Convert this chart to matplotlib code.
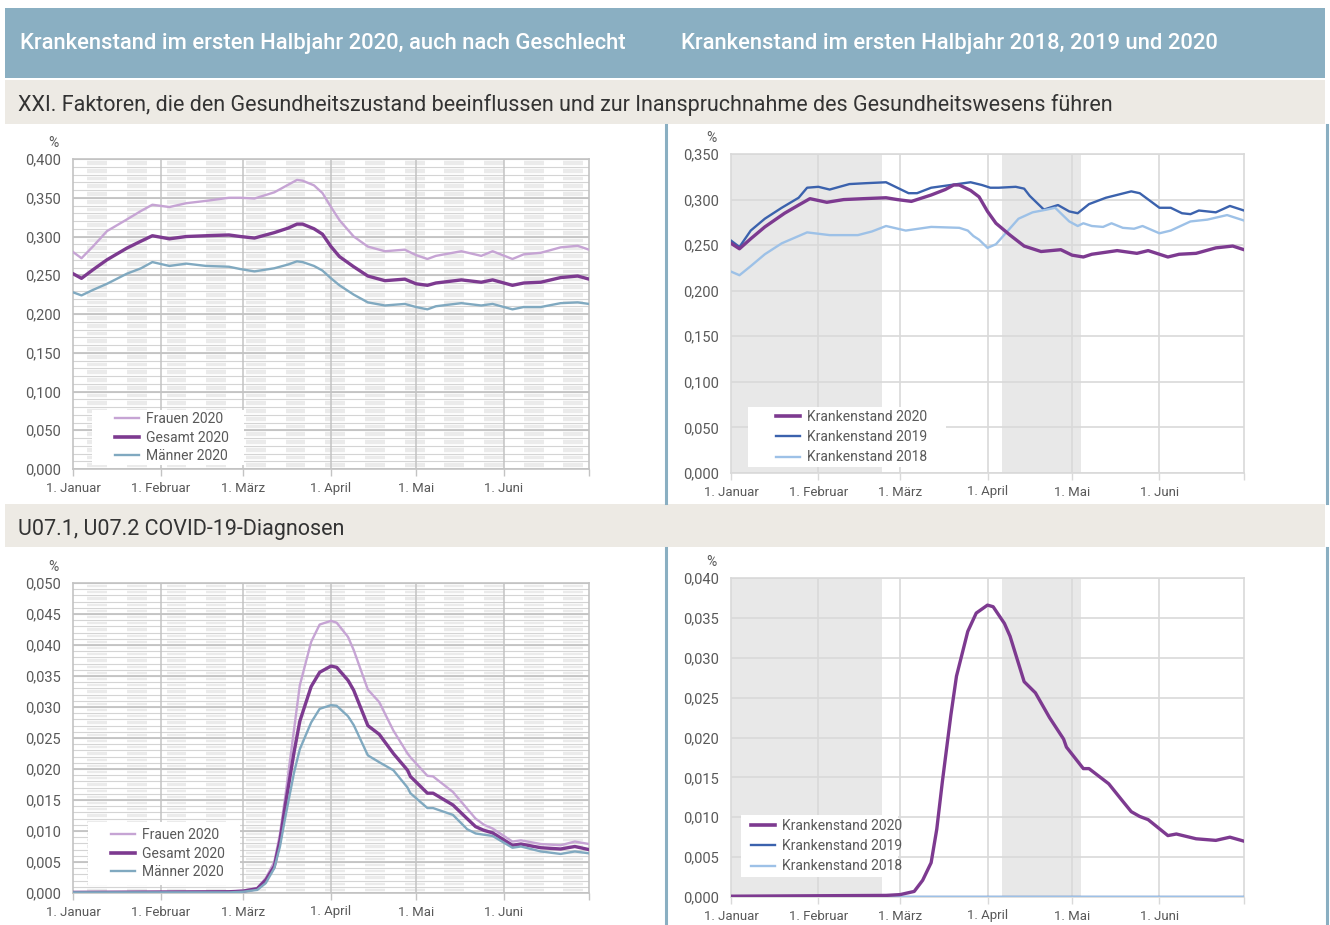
import numpy as np
import matplotlib.pyplot as plt
from matplotlib.patches import Rectangle
from matplotlib.lines import Line2D

plt.rcParams['font.family'] = ['Roboto', 'DejaVu Sans']

W, H = 1330, 925

# x axis: days since 1 January 2020
month_days = [0, 31, 60, 91, 121, 152, 182]
month_labels = ['1. Januar', '1. Februar', '1. März', '1. April', '1. Mai', '1. Juni', '']

# XXI. Faktoren ... (Krankenstand in %)
days_xxi = [0, 3, 7, 12, 19, 24, 28, 34, 40, 47, 55, 59, 64, 71, 76, 79, 81, 85, 88, 91,
            94, 99, 104, 110, 117, 121, 125, 128, 137, 144, 148, 155, 159, 165, 172, 178, 182]
frauen_xxi = [0.280, 0.272, 0.287, 0.307, 0.322, 0.333, 0.341, 0.338, 0.343, 0.346, 0.350,
              0.350, 0.349, 0.357, 0.367, 0.373, 0.372, 0.366, 0.356, 0.338, 0.321, 0.300,
              0.287, 0.281, 0.283, 0.276, 0.271, 0.275, 0.281, 0.275, 0.281, 0.271, 0.277,
              0.279, 0.286, 0.288, 0.283]
gesamt_xxi = [0.252, 0.246, 0.257, 0.270, 0.285, 0.294, 0.301, 0.297, 0.300, 0.301, 0.302,
              0.300, 0.298, 0.305, 0.311, 0.316, 0.316, 0.310, 0.303, 0.287, 0.274, 0.261,
              0.249, 0.243, 0.245, 0.239, 0.237, 0.240, 0.244, 0.241, 0.244, 0.237, 0.240,
              0.241, 0.247, 0.249, 0.245]
maenner_xxi = [0.228, 0.224, 0.231, 0.239, 0.252, 0.259, 0.267, 0.262, 0.265, 0.262, 0.261,
               0.258, 0.255, 0.259, 0.264, 0.268, 0.267, 0.262, 0.256, 0.246, 0.237, 0.225,
               0.215, 0.211, 0.213, 0.209, 0.206, 0.210, 0.214, 0.211, 0.213, 0.206, 0.209,
               0.209, 0.214, 0.215, 0.213]

days_2019_xxi = [0, 3, 7, 12, 18, 24, 27, 31, 35, 42, 48, 55, 59, 63, 66, 71, 78, 85, 89,
                 92, 95, 101, 104, 106, 111, 113, 116, 120, 123, 127, 133, 142, 145, 152,
                 156, 160, 163, 166, 172, 177, 182]
ks2019_xxi = [0.255, 0.248, 0.266, 0.279, 0.291, 0.302, 0.313, 0.314, 0.311, 0.317, 0.318,
              0.319, 0.313, 0.307, 0.307, 0.313, 0.316, 0.319, 0.316, 0.313, 0.313, 0.314,
              0.312, 0.304, 0.289, 0.291, 0.294, 0.287, 0.285, 0.295, 0.302, 0.309, 0.307,
              0.291, 0.291, 0.285, 0.284, 0.288, 0.286, 0.293, 0.288]
days_2018_xxi = [0, 3, 7, 12, 18, 24, 27, 35, 45, 50, 55, 62, 71, 81, 84, 86, 88, 91, 94,
                 98, 102, 107, 112, 115, 120, 123, 125, 128, 132, 135, 139, 143, 146, 152,
                 156, 163, 169, 176, 182]
ks2018_xxi = [0.221, 0.217, 0.227, 0.240, 0.252, 0.260, 0.264, 0.261, 0.261, 0.265, 0.271,
              0.266, 0.270, 0.269, 0.266, 0.260, 0.256, 0.247, 0.251, 0.265, 0.279, 0.286,
              0.289, 0.291, 0.276, 0.271, 0.274, 0.271, 0.270, 0.274, 0.269, 0.268, 0.271,
              0.263, 0.266, 0.276, 0.278, 0.283, 0.277]

# U07.1, U07.2 COVID-19-Diagnosen (Krankenstand in %)
days_cov = [0, 55, 60, 65, 68, 71, 73, 75, 78, 80, 84, 87, 91, 93, 97, 99, 104, 108, 113,
            118, 119, 125, 127, 134, 139, 142, 145, 148, 155, 158, 165, 172, 177, 182]
frauen_cov = [0.0001, 0.0002, 0.0004, 0.0008, 0.0024, 0.0050, 0.0095, 0.0160, 0.0265,
              0.0335, 0.0405, 0.0433, 0.0439, 0.0436, 0.0413, 0.0392, 0.0328, 0.0308,
              0.0262, 0.0225, 0.0219, 0.0189, 0.0188, 0.0163, 0.0136, 0.0120, 0.0110,
              0.0104, 0.0083, 0.0085, 0.0079, 0.0077, 0.0083, 0.0079]
gesamt_cov = [0.0001, 0.0002, 0.0003, 0.0007, 0.0021, 0.0043, 0.0085, 0.0145, 0.0228,
              0.0277, 0.0333, 0.0356, 0.0366, 0.0364, 0.0343, 0.0327, 0.0270, 0.0256,
              0.0225, 0.0198, 0.0188, 0.0161, 0.0161, 0.0142, 0.0120, 0.0107, 0.0101,
              0.0097, 0.0077, 0.0079, 0.0073, 0.0071, 0.0075, 0.0070]
maenner_cov = [0.0001, 0.0001, 0.0002, 0.0005, 0.0016, 0.0040, 0.0075, 0.0125, 0.0195,
               0.0232, 0.0275, 0.0297, 0.0303, 0.0302, 0.0285, 0.0271, 0.0222, 0.0211,
               0.0198, 0.0170, 0.0161, 0.0137, 0.0137, 0.0126, 0.0103, 0.0096, 0.0094,
               0.0092, 0.0073, 0.0075, 0.0067, 0.0063, 0.0067, 0.0064]
days_prev_cov = [0, 182]
ks2019_cov = [0.0, 0.0]
ks2018_cov = [0.0, 0.0]

# shaded periods
week_band_start = 5          # Monday 6 January, every second week shaded
holiday_spans = [(0, 53.5), (96, 124)]

c_frauen = '#c6a4d4'
c_gesamt = '#7d3a90'
c_maenner = '#80a9c0'
c_2019 = '#3b62ad'
c_2018 = '#9dc1e7'
c_text = '#595959'
c_head = '#8aafc2'
c_band = '#edeae4'


def fig_rect(x0, y0, x1, y1, color):
    fig.add_artist(Rectangle((x0 / W, 1 - y1 / H), (x1 - x0) / W, (y1 - y0) / H,
                             transform=fig.transFigure, color=color, lw=0, zorder=0))


def add_ax(x0, y0, x1, y1):
    return fig.add_axes([x0 / W, 1 - y1 / H, (x1 - x0) / W, (y1 - y0) / H])


def style_axis(ax, ymax, major, spine_col):
    ax.set_xlim(0, 182)
    ax.set_ylim(0, ymax)
    yt = np.arange(0, ymax + 1e-9, major)
    ax.set_yticks(yt)
    ax.set_yticklabels([f'{v:.3f}'.replace('.', ',') for v in yt])
    ax.set_xticks(month_days)
    ax.set_xticklabels(month_labels)
    ax.tick_params(axis='y', length=0, pad=9, labelsize=10.5, labelcolor=c_text)
    ax.tick_params(axis='x', length=5, width=1, color=spine_col, pad=4,
                   labelsize=9.5, labelcolor=c_text)
    for s in ax.spines.values():
        s.set_color(spine_col)
        s.set_linewidth(1.2)
    ax.annotate('%', xy=(0, 1), xycoords='axes fraction', xytext=(-20, 16),
                textcoords='offset pixels', ha='center', va='center',
                fontsize=10, color=c_text)


def left_chart(box, ymax, major, minor, f, g, m, days):
    ax = add_ax(*box)
    for s in range(week_band_start, 182, 14):
        ax.axvspan(s, s + 7, color='#ebebeb', lw=0, zorder=0)
    for v in np.arange(0, ymax + 1e-9, minor):
        ax.axhline(v, color='white', lw=2.6, zorder=1)
        ax.axhline(v, color='#d4d4d4', lw=0.8, zorder=1.1)
    for v in np.arange(0, ymax + 1e-9, major):
        ax.axhline(v, color='#c3c3c3', lw=1.3, zorder=1.2)
    for d in month_days[1:-1]:
        ax.axvline(d, color='#c3c3c3', lw=1.1, zorder=1.2)
    ax.plot(days, f, color=c_frauen, lw=1.7, zorder=3)
    ax.plot(days, g, color=c_gesamt, lw=2.4, zorder=4)
    ax.plot(days, m, color=c_maenner, lw=1.7, zorder=4.1)
    style_axis(ax, ymax, major, '#c3c3c3')
    return ax


def right_chart(box, ymax, major, d20, v20, d19, v19, d18, v18):
    ax = add_ax(*box)
    for a, b in holiday_spans:
        ax.axvspan(a, b, color='#e8e8e8', lw=0, zorder=0)
    for v in np.arange(0, ymax + 1e-9, major):
        ax.axhline(v, color='#d9d9d9', lw=1.2, zorder=1)
    for d in month_days[1:-1]:
        ax.axvline(d, color='#d9d9d9', lw=1.2, zorder=1)
    ax.plot(d19, v19, color=c_2019, lw=1.7, zorder=3)
    ax.plot(d18, v18, color=c_2018, lw=1.7, zorder=3.1)
    ax.plot(d20, v20, color=c_gesamt, lw=2.4, zorder=4)
    style_axis(ax, ymax, major, '#d9d9d9')
    return ax


def add_legend(ax, entries, box, handle_x, spacing):
    # white box (pixel coords of the figure) and legend text placed inside it
    x0, y0, x1, y1 = box
    bg = Rectangle((x0 / W, 1 - y1 / H), (x1 - x0) / W, (y1 - y0) / H,
                   transform=fig.transFigure, color='white', lw=0, zorder=5)
    ax.add_artist(bg)
    handles = [Line2D([], [], color=c, lw=lw) for c, lw, _ in entries]
    leg = ax.legend(handles, [t for _, _, t in entries], loc='center left',
                    bbox_to_anchor=(handle_x / W, 1 - (y0 + y1) / 2 / H),
                    bbox_transform=fig.transFigure, frameon=False,
                    fontsize=10, labelcolor=c_text, handlelength=1.75,
                    handletextpad=0.45, labelspacing=spacing, borderpad=0,
                    borderaxespad=0)
    leg.set_zorder(6)


fig = plt.figure(figsize=(W / 100, H / 100), dpi=100)

# header and section bands
fig_rect(5, 8, 1325, 78, c_head)
fig_rect(5, 80, 1325, 124, c_band)
fig_rect(5, 504, 1325, 547, c_band)
fig.text(20 / W, 1 - 43 / H, 'Krankenstand im ersten Halbjahr 2020, auch nach Geschlecht',
         color='white', fontsize=15.8, fontweight='medium', va='center')
fig.text(681 / W, 1 - 43 / H, 'Krankenstand im ersten Halbjahr 2018, 2019 und 2020',
         color='white', fontsize=15.8, fontweight='medium', va='center')
fig.text(18 / W, 1 - 105 / H,
         'XXI. Faktoren, die den Gesundheitszustand beeinflussen und zur '
         'Inanspruchnahme des Gesundheitswesens führen',
         color='#333333', fontsize=15.5, va='center')
fig.text(18 / W, 1 - 529 / H, 'U07.1, U07.2 COVID-19-Diagnosen',
         color='#333333', fontsize=15.5, va='center')

# separators
for y0, y1 in [(125, 503), (548, 925)]:
    for x in (666, 1327):
        fig.add_artist(Line2D([x / W, x / W], [1 - y0 / H, 1 - y1 / H],
                              transform=fig.transFigure, color=c_head, lw=2.2))

sex_entries = [(c_frauen, 1.7, 'Frauen 2020'), (c_gesamt, 2.6, 'Gesamt 2020'),
               (c_maenner, 1.7, 'Männer 2020')]
year_entries = [(c_gesamt, 2.6, 'Krankenstand 2020'), (c_2019, 1.7, 'Krankenstand 2019'),
                (c_2018, 1.7, 'Krankenstand 2018')]

ax1 = left_chart((73, 159, 589, 469), 0.4, 0.05, 0.01,
                 frauen_xxi, gesamt_xxi, maenner_xxi, days_xxi)
add_legend(ax1, sex_entries, (92, 410, 244, 465), 115, 0.32)

ax2 = right_chart((731, 154, 1244, 473), 0.35, 0.05,
                  days_xxi, gesamt_xxi, days_2019_xxi, ks2019_xxi, days_2018_xxi, ks2018_xxi)
add_legend(ax2, year_entries, (748, 407, 946, 467), 776, 0.46)

ax3 = left_chart((73, 583, 589, 893), 0.05, 0.005, 0.001,
                 frauen_cov, gesamt_cov, maenner_cov, days_cov)
add_legend(ax3, sex_entries, (88, 822, 240, 885), 111, 0.32)

ax4 = right_chart((731, 578, 1244, 897), 0.04, 0.005,
                  days_cov, gesamt_cov, days_prev_cov, ks2019_cov, days_prev_cov, ks2018_cov)
add_legend(ax4, year_entries, (741, 815, 898, 877), 751, 0.46)

fig.savefig('out.png', dpi=100)
